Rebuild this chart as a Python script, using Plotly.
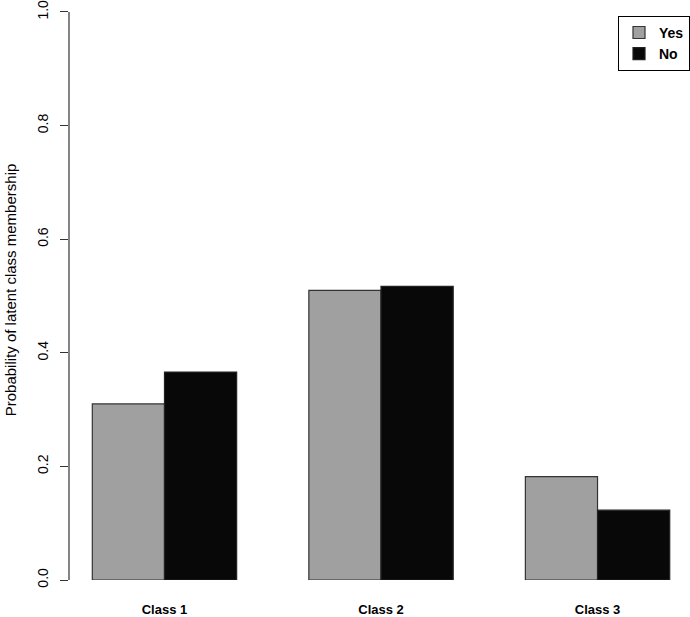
import plotly.graph_objects as go

categories = ["Class 1", "Class 2", "Class 3"]
yes_values = [0.310, 0.510, 0.182]
no_values = [0.366, 0.517, 0.123]
y_tick_vals = [0.0, 0.2, 0.4, 0.6, 0.8, 1.0]
y_tick_text = ["0.0", "0.2", "0.4", "0.6", "0.8", "1.0"]

W, H = 690, 617
fig = go.Figure()
fig.add_trace(go.Bar(x=list(range(len(categories))), y=yes_values, name="<b>Yes</b>",
                     marker=dict(color="#A0A0A0", line=dict(color="#333333", width=1.2))))
fig.add_trace(go.Bar(x=list(range(len(categories))), y=no_values, name="<b>No</b>",
                     marker=dict(color="#080808", line=dict(color="#222222", width=1.2))))

fig.update_layout(
    width=W, height=H,
    margin=dict(l=69, r=0, t=0, b=34),
    paper_bgcolor="white", plot_bgcolor="white",
    barmode="group", bargap=1/3, bargroupgap=0,
    font=dict(family="Liberation Sans, Arial", color="black"),
    legend=dict(x=1, xanchor="right", y=1 - 16/583, yanchor="top",
                bordercolor="black", borderwidth=1, bgcolor="white",
                font=dict(size=14, family="Liberation Sans, Arial"),
                traceorder="normal", tracegroupgap=0),
    showlegend=True,
)
fig.update_xaxes(
    range=[-0.441, 2.427], tickvals=list(range(len(categories))), ticktext=[f"<b>{c}</b>" for c in categories],
    showline=False, showgrid=False, zeroline=False, ticks="",
    tickfont=dict(size=13), ticklabelstandoff=20,
)
fig.update_yaxes(
    range=[0, 583/571], tickvals=y_tick_vals, ticktext=y_tick_text,
    showgrid=False, zeroline=False, showline=False,
    ticks="outside", ticklen=8, tickcolor="#333333", tickwidth=1.2,
    tickangle=-90, tickfont=dict(size=14), ticklabelstandoff=6,
    ticklabeloverflow="allow",
    title=dict(text="Probability of latent class membership", font=dict(size=15), standoff=15),
)
fig.add_shape(type="line", xref="paper", yref="y", x0=0, x1=0, y0=0, y1=1,
              line=dict(color="#333333", width=1.2))
fig.write_html("out.html", config={"displayModeBar": False},
               post_script="document.body.style.margin='0';document.body.style.overflow='hidden';")
